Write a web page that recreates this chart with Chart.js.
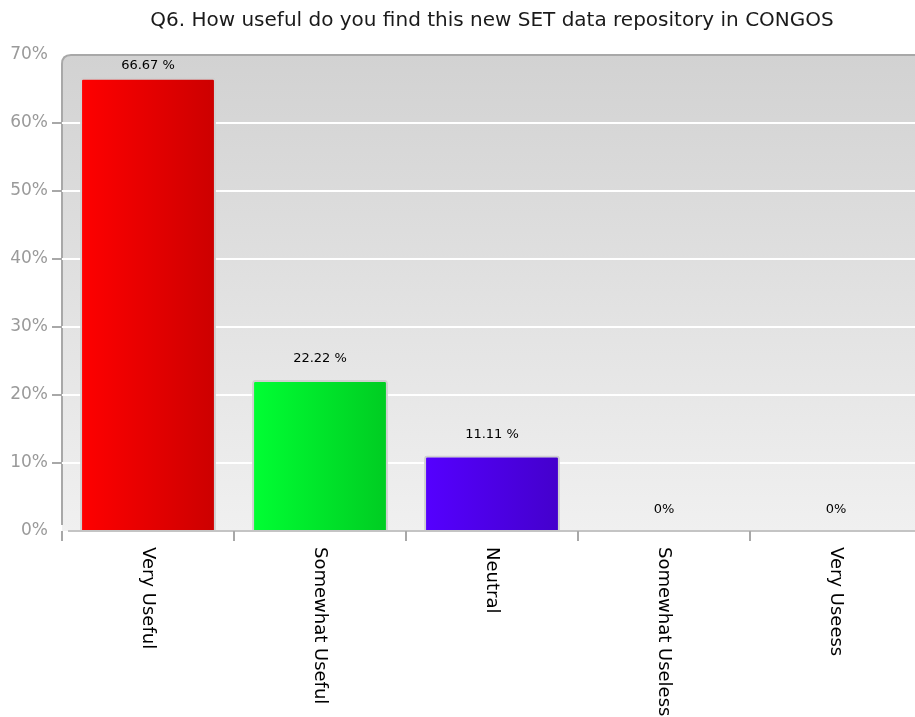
<!DOCTYPE html>
<html>
<head>
<meta charset="utf-8">
<script src="https://cdn.jsdelivr.net/npm/chart.js@4/dist/chart.umd.min.js"></script>
<style>
    html, body { margin: 0; padding: 0; background: #fff; overflow: hidden; }
    #wrap { position: relative; width: 922px; height: 717px; }
</style>
</head>
<body>
<div id="wrap"><canvas id="surveyChart"></canvas></div>
<script>
const title = 'Q6. How useful do you find this new SET data repository in CONGOS';
const categories = ['Very Useful', 'Somewhat Useful', 'Neutral', 'Somewhat Useless', 'Very Useess'];
const percentages = [66.67, 22.22, 11.11, 0, 0];
const valueLabels = ['66.67 %', '22.22 %', '11.11 %', '0%', '0%'];
const yTicks = [0, 10, 20, 30, 40, 50, 60, 70];
const barColors = [['#ff0000', '#cc0000'], ['#00ff33', '#00cc22'], ['#5500ff', '#4400cc']];

const FONT = '"DejaVu Sans", sans-serif';

function barFill(context) {
    const chart = context.chart;
    const i = context.dataIndex;
    const pair = barColors[i] || ['#dddddd', '#cccccc'];
    const area = chart.chartArea;
    if (!area || !chart.scales.x) return pair[0];
    const cx = chart.scales.x.getPixelForValue(i);
    const half = (area.right - area.left) / categories.length * 0.79 / 2;
    const g = chart.ctx.createLinearGradient(cx - half, 0, cx + half, 0);
    g.addColorStop(0, pair[0]);
    g.addColorStop(1, pair[1]);
    return g;
}

// plot background, borders, title, rotated category labels, value labels
const decorations = {
    id: 'decorations',
    beforeDraw(chart) {
        const { ctx, chartArea: a } = chart;
        const r = 9;
        ctx.save();
        const bg = ctx.createLinearGradient(0, a.top, 0, a.bottom);
        bg.addColorStop(0, '#d2d2d2');
        bg.addColorStop(1, '#f0f0f0');
        ctx.beginPath();
        ctx.moveTo(a.left, a.bottom);
        ctx.lineTo(a.left, a.top + r);
        ctx.quadraticCurveTo(a.left, a.top, a.left + r, a.top);
        ctx.lineTo(a.right, a.top);
        ctx.lineTo(a.right, a.bottom);
        ctx.closePath();
        ctx.fillStyle = bg;
        ctx.fill();
        // bottom border
        ctx.strokeStyle = '#c4c4c4';
        ctx.lineWidth = 2;
        ctx.beginPath();
        ctx.moveTo(a.left + 6, a.bottom);
        ctx.lineTo(a.right, a.bottom);
        ctx.stroke();
        // top + left border
        ctx.strokeStyle = '#a8a8a8';
        ctx.lineWidth = 2;
        ctx.beginPath();
        ctx.moveTo(a.left, a.bottom - 6);
        ctx.lineTo(a.left, a.top + r);
        ctx.quadraticCurveTo(a.left, a.top, a.left + r, a.top);
        ctx.lineTo(a.right, a.top);
        ctx.stroke();
        ctx.restore();
    },
    afterDatasetsDraw(chart) {
        const { ctx, chartArea: a } = chart;
        const x = chart.scales.x;
        const y = chart.scales.y;
        ctx.save();
        // title
        ctx.fillStyle = '#1a1a1a';
        ctx.font = '20px ' + FONT;
        ctx.textAlign = 'center';
        ctx.textBaseline = 'middle';
        ctx.fillText(title, (a.left + a.right) / 2, 21);
        // value labels
        ctx.font = '13px ' + FONT;
        ctx.fillStyle = '#000';
        percentages.forEach((v, i) => {
            const top = y.getPixelForValue(v);
            const ly = Math.max(top - 21, a.top + 11);
            ctx.fillText(valueLabels[i], x.getPixelForValue(i), ly);
        });
        // category labels, reading top to bottom
        ctx.font = '18px ' + FONT;
        ctx.fillStyle = '#000';
        ctx.textAlign = 'left';
        categories.forEach((c, i) => {
            ctx.save();
            ctx.translate(x.getPixelForValue(i), a.bottom + 16);
            ctx.rotate(Math.PI / 2);
            ctx.fillText(c, 0, 0);
            ctx.restore();
        });
        ctx.restore();
    }
};

new Chart(document.getElementById('surveyChart').getContext('2d'), {
    type: 'bar',
    data: {
        labels: categories,
        datasets: [{
            data: percentages,
            backgroundColor: barFill,
            borderColor: '#d0d0d0',
            borderWidth: { top: 2, left: 2, right: 2, bottom: 0 },
            borderRadius: { topLeft: 3, topRight: 3 },
            borderSkipped: 'bottom',
            barPercentage: 0.79,
            categoryPercentage: 1
        }]
    },
    plugins: [decorations],
    options: {
        responsive: true,
        maintainAspectRatio: false,
        animation: false,
        layout: { padding: { top: 55, left: 0, right: 0, bottom: 0 } },
        plugins: {
            legend: { display: false },
            title: { display: false },
            tooltip: { enabled: false }
        },
        scales: {
            x: {
                afterFit(scale) { scale.height = 186; },
                ticks: { display: false },
                border: { display: false },
                grid: {
                    offset: true,
                    drawOnChartArea: false,
                    drawTicks: true,
                    tickLength: 10,
                    tickColor: '#a8a8a8',
                    lineWidth: 2
                }
            },
            y: {
                min: 0,
                max: 70,
                afterFit(scale) { scale.width = 62; },
                afterBuildTicks(scale) { scale.ticks = yTicks.map(v => ({ value: v })); },
                border: { display: false },
                grid: {
                    color: ctx => (ctx.tick && (ctx.tick.value === 0 || ctx.tick.value === 70)) ? 'rgba(0,0,0,0)' : '#ffffff',
                    tickColor: ctx => (ctx.tick && (ctx.tick.value === 0 || ctx.tick.value === 70)) ? 'rgba(0,0,0,0)' : '#a8a8a8',
                    lineWidth: 2,
                    tickLength: 10
                },
                ticks: {
                    color: '#9a9a9a',
                    padding: 4,
                    font: { family: FONT, size: 17 },
                    callback: v => v + '%'
                }
            }
        }
    }
});
</script>
</body>
</html>
